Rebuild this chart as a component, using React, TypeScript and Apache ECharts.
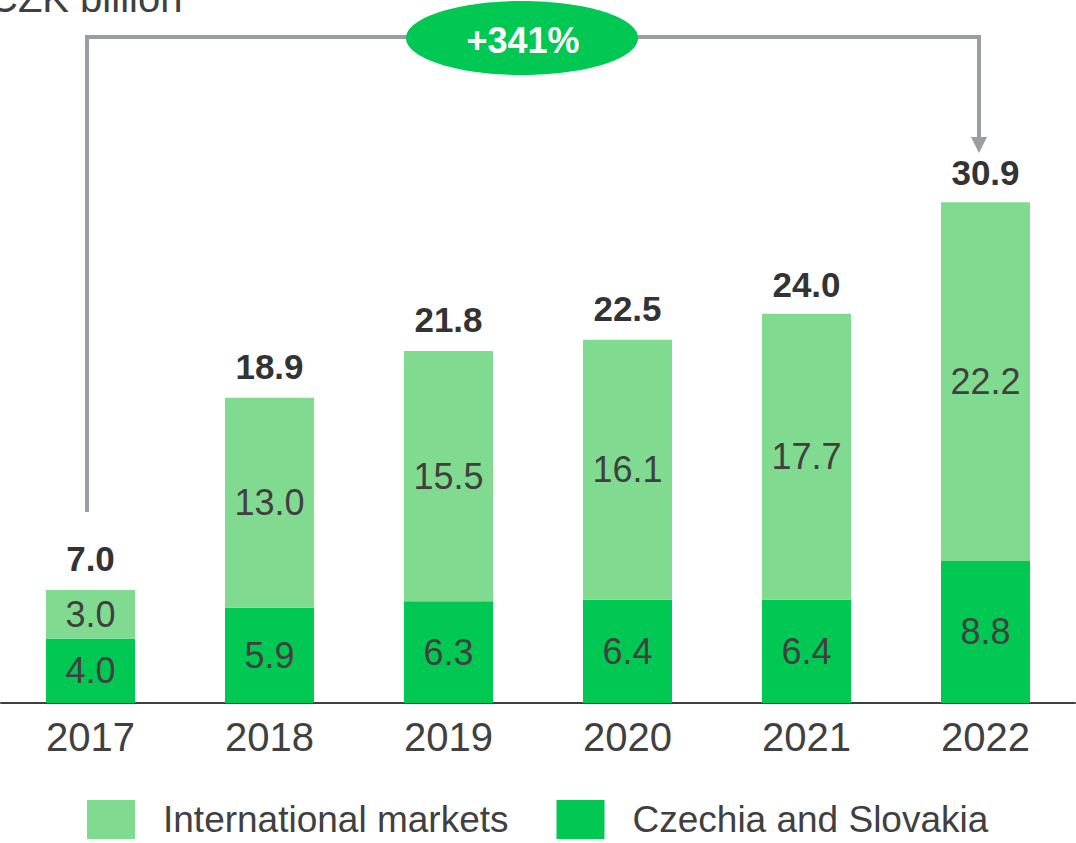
import React, { useEffect, useRef } from "react";
import * as echarts from "echarts";

const categories = ["2017", "2018", "2019", "2020", "2021", "2022"];
const czechiaSlovakia = [4.0, 5.9, 6.3, 6.4, 6.4, 8.8];
const international = [3.0, 13.0, 15.5, 16.1, 17.7, 22.2];
const totals = [7.0, 18.9, 21.8, 22.5, 24.0, 30.9];
const growthLabel = "+341%";
const unitLabel = "CZK billion";

const DARK = "#00C853";
const LIGHT = "#80DB90";
const TEXT = "#404040";
const TOTAL_TEXT = "#333333";
const GRAY = "#9A9EA3";
const FONT = "'Liberation Sans', Arial, Helvetica, sans-serif";

export default function App() {
  const ref = useRef<HTMLDivElement>(null);
  useEffect(() => {
    if (!ref.current) return;
    const chart = echarts.init(ref.current, undefined, { renderer: "svg" });
    chart.setOption({
      animation: false,
      textStyle: { fontFamily: FONT },
      grid: { left: 1, right: 1, top: 57, bottom: 140, containLabel: false },
      legend: {
        data: ["International markets", "Czechia and Slovakia"],
        left: 87,
        top: 800,
        padding: 0,
        itemWidth: 48,
        itemHeight: 39,
        itemGap: 48,
        icon: "rect",
        selectedMode: false,
        textStyle: {
          fontFamily: FONT,
          fontSize: 37,
          color: TEXT,
          padding: [0, 0, 0, 23],
        },
      },
      xAxis: {
        type: "category",
        data: categories,
        axisLine: { lineStyle: { color: TEXT, width: 2 } },
        axisTick: { show: false },
        axisLabel: {
          fontFamily: FONT,
          fontSize: 40,
          color: TEXT,
          margin: 14,
        },
      },
      yAxis: {
        type: "value",
        min: 0,
        max: 40,
        show: false,
        splitLine: { show: false },
      },
      series: [
        {
          name: "Czechia and Slovakia",
          type: "bar",
          stack: "total",
          barWidth: 89,
          data: czechiaSlovakia,
          itemStyle: { color: DARK },
          label: {
            show: true,
            position: "inside",
            fontFamily: FONT,
            fontSize: 36,
            color: TEXT,
            formatter: (p: any) => Number(p.value).toFixed(1),
          },
        },
        {
          name: "International markets",
          type: "bar",
          stack: "total",
          barWidth: 89,
          data: international,
          itemStyle: { color: LIGHT },
          label: {
            show: true,
            position: "inside",
            fontFamily: FONT,
            fontSize: 36,
            color: TEXT,
            formatter: (p: any) => Number(p.value).toFixed(1),
          },
        },
        {
          name: "Total",
          type: "scatter",
          data: totals,
          symbolSize: 1,
          itemStyle: { color: "#ffffff", opacity: 1 },
          silent: true,
          z: 1,
          label: {
            show: true,
            position: "top",
            distance: 13,
            fontFamily: FONT,
            fontSize: 35,
            fontWeight: "bold",
            color: TOTAL_TEXT,
            opacity: 1,
            formatter: (p: any) => Number(p.value).toFixed(1),
          },
        },
      ],
      graphic: [
        {
          type: "text",
          x: -11,
          y: -2,
          style: {
            text: unitLabel,
            fontFamily: FONT,
            fontSize: 40,
            fill: TEXT,
            verticalAlign: "middle",
            align: "left",
          },
        },
        {
          type: "polyline",
          shape: {
            points: [
              [87, 512],
              [87, 37],
              [979, 37],
              [979, 140],
            ],
          },
          style: { stroke: GRAY, lineWidth: 4, fill: null },
        },
        {
          type: "polygon",
          shape: {
            points: [
              [971, 137],
              [987, 137],
              [979, 153],
            ],
          },
          style: { fill: GRAY },
        },
        {
          type: "ellipse",
          shape: { cx: 522, cy: 38, rx: 116, ry: 37 },
          style: { fill: DARK },
        },
        {
          type: "text",
          x: 523,
          y: 40,
          style: {
            text: growthLabel,
            fontFamily: FONT,
            fontSize: 36,
            fontWeight: "bold",
            fill: "#FFFFFF",
            align: "center",
            verticalAlign: "middle",
          },
        },
      ],
    });
    return () => chart.dispose();
  }, []);
  return (
    <div
      ref={ref}
      style={{ position: "absolute", left: 0, top: 0, width: 1076, height: 843 }}
    />
  );
}
